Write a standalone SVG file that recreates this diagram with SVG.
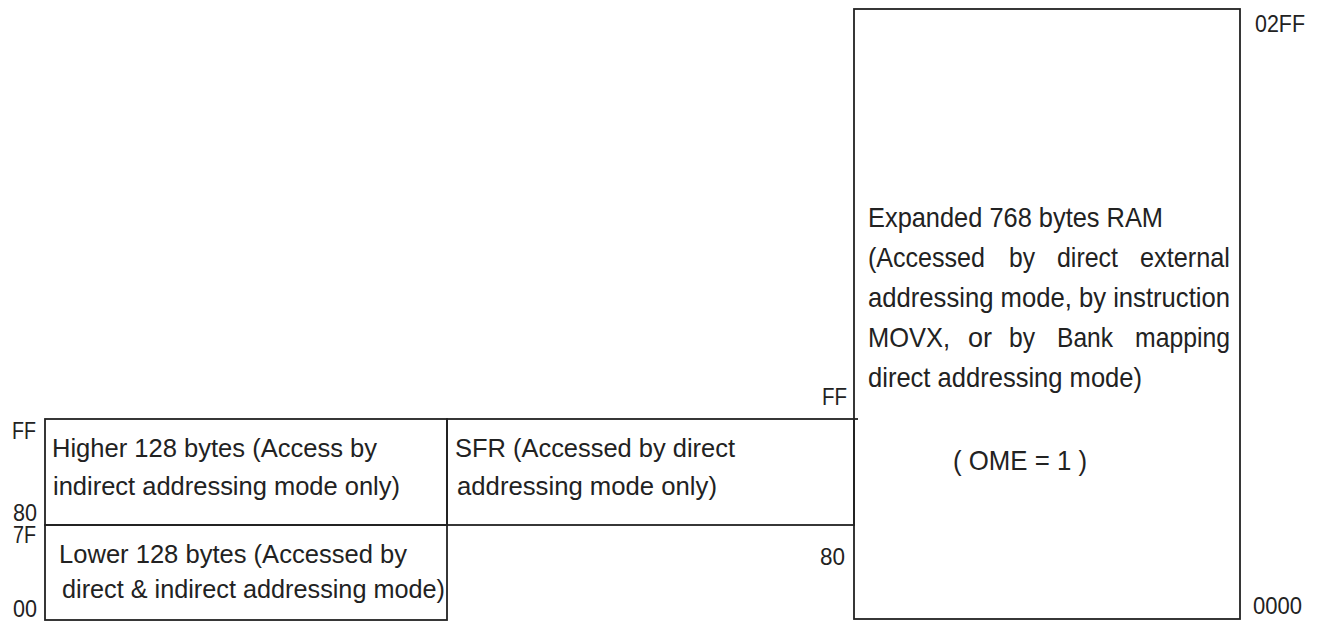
<svg xmlns="http://www.w3.org/2000/svg" width="1320" height="623" viewBox="0 0 1320 623">
<style>
.box{fill:none;stroke:#222;stroke-width:1.8}
.t{font-family:"Liberation Sans",Arial,sans-serif;fill:#222}
.lab{font-size:24px}
.lt{font-size:26px}
.rt{font-size:28px}
</style>
<rect width="1320" height="623" fill="#fff"/>
<g id="higher128">
<rect class="box" x="45" y="419" width="402" height="106"/>
<text class="t lt" x="52" y="457" textLength="325" lengthAdjust="spacingAndGlyphs">Higher 128 bytes (Access by</text>
<text class="t lt" x="53" y="495" textLength="347" lengthAdjust="spacingAndGlyphs">indirect addressing mode only)</text>
</g>
<g id="lower128">
<rect class="box" x="45" y="525" width="402" height="95"/>
<text class="t lt" x="59" y="563" textLength="348" lengthAdjust="spacingAndGlyphs">Lower 128 bytes (Accessed by</text>
<text class="t lt" x="62" y="598" textLength="383" lengthAdjust="spacingAndGlyphs">direct &amp; indirect addressing mode)</text>
</g>
<g id="sfr">
<rect class="box" x="447" y="419" width="407" height="106"/>
<text class="t lt" x="455" y="457" textLength="280" lengthAdjust="spacingAndGlyphs">SFR (Accessed by direct</text>
<text class="t lt" x="457" y="495" textLength="260" lengthAdjust="spacingAndGlyphs">addressing mode only)</text>
</g>
<g id="expanded-ram">
<rect class="box" x="854" y="9" width="386" height="610"/>
<text class="t rt" x="868" y="227" textLength="295" lengthAdjust="spacingAndGlyphs">Expanded 768 bytes RAM</text>
<text class="t rt" y="267"><tspan x="868" textLength="117" lengthAdjust="spacingAndGlyphs">(Accessed</tspan><tspan x="1009" textLength="26" lengthAdjust="spacingAndGlyphs">by</tspan><tspan x="1057" textLength="61" lengthAdjust="spacingAndGlyphs">direct</tspan><tspan x="1140" textLength="90" lengthAdjust="spacingAndGlyphs">external</tspan></text>
<text class="t rt" x="868" y="307" textLength="362" lengthAdjust="spacingAndGlyphs">addressing mode, by instruction</text>
<text class="t rt" y="347"><tspan x="868" textLength="82" lengthAdjust="spacingAndGlyphs">MOVX,</tspan><tspan x="968" textLength="24" lengthAdjust="spacingAndGlyphs">or</tspan><tspan x="1009" textLength="26" lengthAdjust="spacingAndGlyphs">by</tspan><tspan x="1057" textLength="56" lengthAdjust="spacingAndGlyphs">Bank</tspan><tspan x="1135" textLength="95" lengthAdjust="spacingAndGlyphs">mapping</tspan></text>
<text class="t rt" x="868" y="387" textLength="274" lengthAdjust="spacingAndGlyphs">direct addressing mode)</text>
<text class="t rt" x="953" y="470" textLength="134" lengthAdjust="spacingAndGlyphs">( OME = 1 )</text>
</g>
<g id="connectors">
<line class="box" x1="854" y1="419" x2="858" y2="419"/>
</g>
<g id="address-labels">
<text class="t lab" x="12" y="439" textLength="24" lengthAdjust="spacingAndGlyphs">FF</text>
<text class="t lab" x="13" y="521" textLength="24" lengthAdjust="spacingAndGlyphs">80</text>
<text class="t lab" x="13" y="543" textLength="23" lengthAdjust="spacingAndGlyphs">7F</text>
<text class="t lab" x="13" y="617" textLength="24" lengthAdjust="spacingAndGlyphs">00</text>
<text class="t lab" x="822" y="405" textLength="25" lengthAdjust="spacingAndGlyphs">FF</text>
<text class="t lab" x="820" y="565" textLength="25" lengthAdjust="spacingAndGlyphs">80</text>
<text class="t lab" x="1255" y="32" textLength="50" lengthAdjust="spacingAndGlyphs">02FF</text>
<text class="t lab" x="1253" y="614" textLength="49" lengthAdjust="spacingAndGlyphs">0000</text>
</g>
</svg>
